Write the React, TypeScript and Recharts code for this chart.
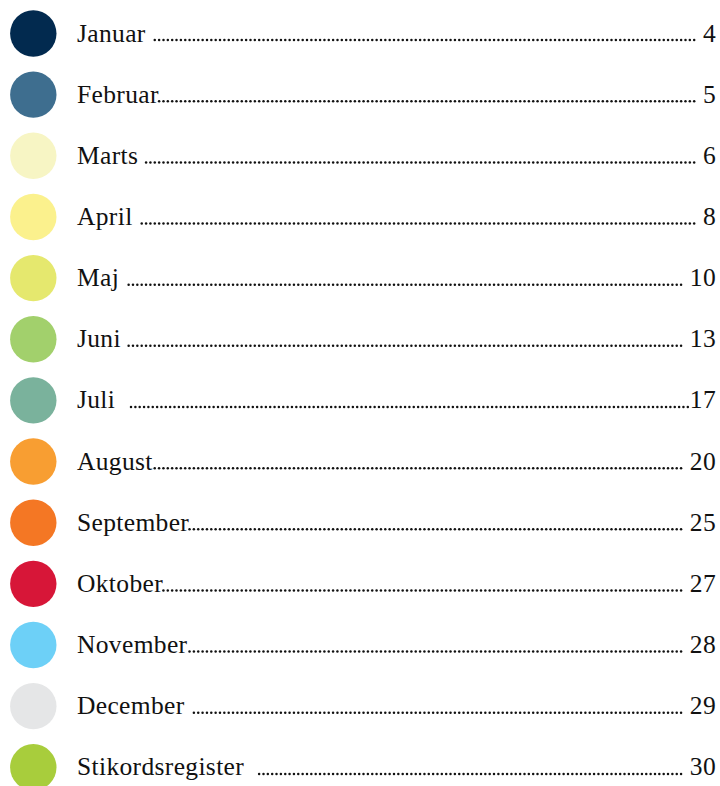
import { ScatterChart, Scatter, XAxis, YAxis } from 'recharts';

const months = [
  'Januar ', 'Februar', 'Marts ', 'April ', 'Maj ', 'Juni ', 'Juli  ',
  'August', 'September', 'Oktober', 'November', 'December ', 'Stikordsregister  ',
];
const pages = [' 4', ' 5', ' 6', ' 8', ' 10', ' 13', '17', ' 20', ' 25', ' 27', ' 28', ' 29', ' 30'];
const colors = [
  '#022a4f', '#3e6e8f', '#f7f5c4', '#fbf18d', '#e5e86e', '#a2d06c', '#7ab29c',
  '#f89e32', '#f47724', '#d71638', '#6dd0f7', '#e5e6e7', '#a8cd3c',
];

const FONT_SIZE = 25.5;
const SPACING = 0.35;
const TEXT_X = 77;
const RIGHT_X = 716;
const DOT_STEP = 4.35;

let ctx: CanvasRenderingContext2D | null = null;
function measure(s: string) {
  if (!ctx) ctx = document.createElement('canvas').getContext('2d');
  if (!ctx) return s.length * 11;
  ctx.font = `${FONT_SIZE}px "Liberation Serif"`;
  return ctx.measureText(s).width + SPACING * s.length;
}

const rows = months.map((name, i) => ({
  row: i,
  name,
  page: pages[i],
  color: colors[i],
}));

function TocRow(props: any) {
  const { cy, payload } = props;
  const base = cy + 8;
  const start = TEXT_X + measure(payload.name);
  const end = RIGHT_X - measure(payload.page) - 2;
  const dots = [];
  for (let x = end; x >= start; x -= DOT_STEP) dots.push(x);
  return (
    <g>
      <circle cx={33.3} cy={cy} r={23.2} fill={payload.color} />
      <text
        x={TEXT_X}
        y={base}
        fontFamily='"Liberation Serif"'
        fontSize={FONT_SIZE}
        letterSpacing={SPACING}
        fill="#111"
      >
        {payload.name.trimEnd()}
      </text>
      {dots.map((x, k) => (
        <circle key={k} cx={x} cy={base - 1.4} r={1.25} fill="#111" />
      ))}
      <text
        x={RIGHT_X}
        y={base}
        textAnchor="end"
        fontFamily='"Liberation Serif"'
        fontSize={FONT_SIZE}
        letterSpacing={SPACING}
        fill="#111"
      >
        {payload.page.trim()}
      </text>
    </g>
  );
}

export default function App() {
  return (
    <div style={{ position: 'absolute', left: 0, top: 0, width: 720, height: 786, background: '#fff', overflow: 'hidden' }}>
      <ScatterChart width={720} height={786} margin={{ top: 0, right: 0, bottom: 0, left: 0 }}>
        <XAxis type="number" dataKey="row" hide domain={[0, 12]} />
        <YAxis type="number" dataKey="row" hide reversed domain={[-0.548, 12.306]} />
        <Scatter data={rows} shape={TocRow} isAnimationActive={false} />
      </ScatterChart>
    </div>
  );
}
